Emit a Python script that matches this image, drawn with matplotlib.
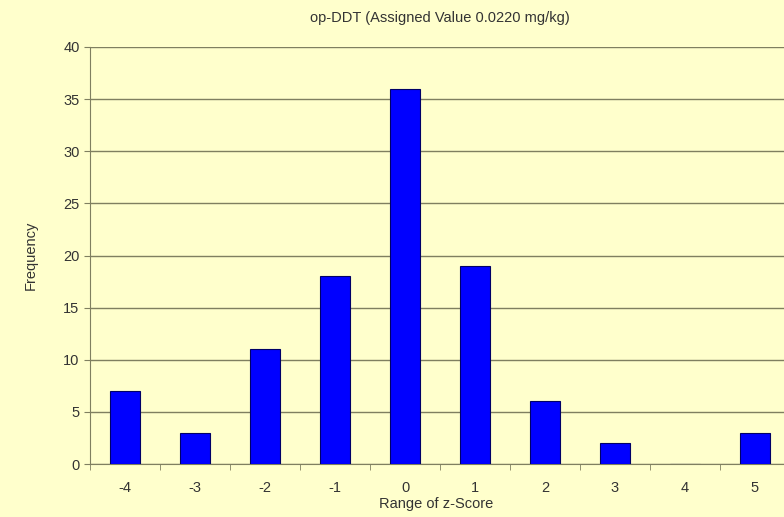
import matplotlib.pyplot as plt
import numpy as np

# Data
categories = ["-4", "-3", "-2", "-1", "0", "1", "2", "3", "4", "5"]
frequency = [7, 3, 11, 18, 36, 19, 6, 2, 0, 3]

bg = "#FFFFCC"
txt = "#333333"
grid_col = "#7F7F60"

plt.rcParams["font.family"] = ["Liberation Sans", "DejaVu Sans"]

fig = plt.figure(figsize=(7.84, 5.17), dpi=100, facecolor=bg)
ax = fig.add_axes([90 / 784, 53 / 517, 700 / 784, 417 / 517])
ax.set_facecolor(bg)

xx = np.arange(len(categories))
ax.bar(xx, frequency, width=0.43, color="#0000FF", edgecolor="#000066", linewidth=0.8, zorder=3)

ax.set_xlim(-0.5, len(categories) - 0.5)
ax.set_ylim(0, 40)
ax.set_yticks(range(0, 41, 5))
ax.yaxis.grid(True, color=grid_col, linewidth=1.0, zorder=0)

ax.set_xticks(xx)
ax.set_xticklabels(categories)
ax.set_xticks(np.arange(-0.5, len(categories), 1), minor=True)
ax.tick_params(axis="x", which="major", length=0, pad=12, labelsize=10.5, labelcolor=txt)
ax.tick_params(axis="x", which="minor", length=4, color=grid_col, direction="out")
ax.tick_params(axis="y", length=4, color=grid_col, labelsize=10.5, labelcolor=txt)

for side in ["top", "right"]:
    ax.spines[side].set_visible(False)
ax.spines["left"].set_color(grid_col)
ax.spines["bottom"].set_color(grid_col)

ax.set_title("op-DDT (Assigned Value 0.0220 mg/kg)", fontsize=10.5, color=txt, pad=18, x=(440 - 90) / 700)
ax.set_xlabel("Range of z-Score", fontsize=10.5, color=txt, labelpad=2, x=(436 - 90) / 700)
ax.set_ylabel("Frequency", fontsize=10.5, color=txt, labelpad=18)

plt.savefig("out.png", dpi=100, facecolor=bg)
